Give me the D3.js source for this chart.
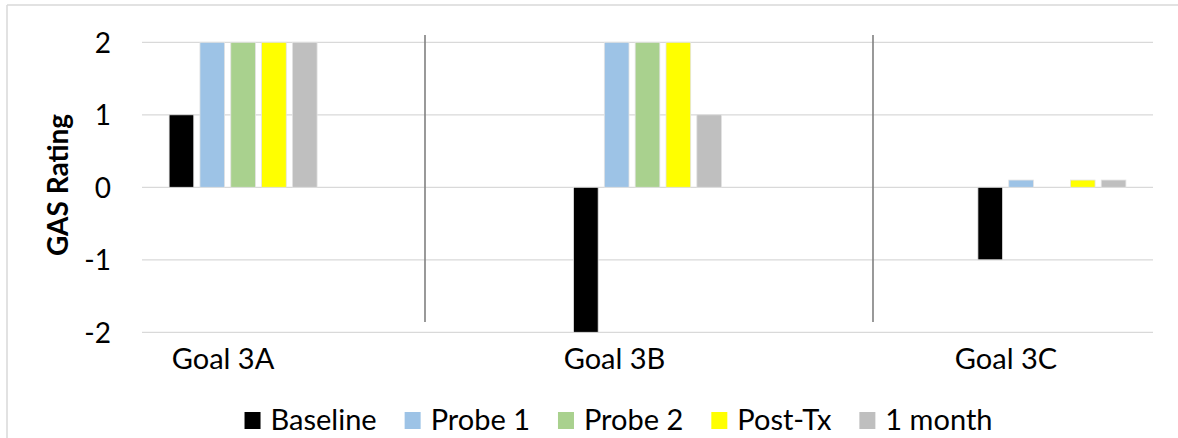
<!DOCTYPE html>
<html>
<head>
<meta charset="utf-8">
<script src="https://cdn.jsdelivr.net/npm/d3@7"></script>
<style>
  html, body { margin: 0; padding: 0; background: #fff; }
  svg { display: block; font-family: Lato, "Open Sans", sans-serif; }
</style>
</head>
<body>
<svg id="chart" width="1178" height="438"></svg>
<script>
// Goal attainment scaling (GAS) ratings per goal and assessment point
const categories = ["Goal 3A", "Goal 3B", "Goal 3C"];
const seriesNames = ["Baseline", "Probe 1", "Probe 2", "Post-Tx", "1 month"];
const baseline = [1, -2, -1];
const probe1   = [2, 2, 0.1];
const probe2   = [2, 2, 0];
const postTx   = [2, 2, 0.1];
const oneMonth = [2, 1, 0.1];
const yTicks = [-2, -1, 0, 1, 2];
const colors = ["#000000", "#9DC3E6", "#A9D18E", "#FFFF00", "#BFBFBF"];

const seriesValues = [baseline, probe1, probe2, postTx, oneMonth];

const svg = d3.select("#chart");
const W = 1178, H = 438;
const plot = { left: 142, right: 1153, top: 42.3, bottom: 332.3 };
const labelSize = 29;

// outer chart frame (top and left edges visible)
svg.append("line").attr("x1", 7).attr("x2", W).attr("y1", 5).attr("y2", 5)
  .attr("stroke", "#d9d9d9").attr("stroke-width", 1.5);
svg.append("line").attr("x1", 7).attr("x2", 7).attr("y1", 5).attr("y2", H)
  .attr("stroke", "#d9d9d9").attr("stroke-width", 1.5);

const y = d3.scaleLinear().domain([-2, 2]).range([plot.bottom, plot.top]);

const x = d3.scalePoint().domain(categories)
  .range([plot.left, plot.right]).padding(0.25);

const xInner = d3.scaleBand().domain(seriesNames)
  .range([-74, 74]).paddingInner(0.2).paddingOuter(0);

// horizontal gridlines
svg.append("g")
  .selectAll("line").data(yTicks).join("line")
  .attr("x1", plot.left).attr("x2", plot.right)
  .attr("y1", d => y(d)).attr("y2", d => y(d))
  .attr("stroke", "#d9d9d9").attr("stroke-width", 1.3);

// y tick labels
const yAxis = d3.axisLeft(y).tickValues(yTicks).tickSize(0).tickPadding(0)
  .tickFormat(d => String(d));
const yg = svg.append("g").attr("transform", `translate(111,0)`).call(yAxis);
yg.select(".domain").remove();
yg.selectAll("text")
  .attr("font-family", "Lato, sans-serif")
  .attr("font-size", 28).attr("fill", "#000").attr("dy", "0.36em");

// y axis title
svg.append("text")
  .attr("transform", "translate(68,185) rotate(-90)")
  .attr("text-anchor", "middle")
  .attr("font-size", 28).attr("font-weight", "bold").attr("fill", "#000")
  .text("GAS Rating");

// goal separators
const separators = [425, 873];
svg.append("g").selectAll("line").data(separators).join("line")
  .attr("x1", d => d).attr("x2", d => d).attr("y1", 35).attr("y2", 322)
  .attr("stroke", "#808080").attr("stroke-width", 1.6);

// bars
const groups = svg.append("g").selectAll("g").data(categories).join("g")
  .attr("transform", d => `translate(${x(d)},0)`);

groups.selectAll("rect")
  .data((cat, ci) => seriesNames.map((s, si) => ({ s, si, v: seriesValues[si][ci] })))
  .join("rect")
  .filter(d => d.v !== 0)
  .attr("x", d => xInner(d.s))
  .attr("width", xInner.bandwidth())
  .attr("y", d => y(Math.max(0, d.v)))
  .attr("height", d => Math.abs(y(d.v) - y(0)))
  .attr("fill", d => colors[d.si])
  .attr("stroke", "#e3e3e3").attr("stroke-width", 0.8);

// category labels
const xLabel = d3.scalePoint().domain(categories).range([223, 1006]);
svg.append("g").selectAll("text").data(categories).join("text")
  .attr("x", d => xLabel(d)).attr("y", 369)
  .attr("text-anchor", "middle")
  .attr("font-size", labelSize).attr("fill", "#000")
  .text(d => d);

// legend
const legend = svg.append("g");
const items = legend.selectAll("g").data(seriesNames).join("g");
items.append("rect")
  .attr("x", 0).attr("y", 412).attr("width", 16).attr("height", 17)
  .attr("fill", (d, i) => colors[i]);
items.append("text")
  .attr("x", 26).attr("y", 430)
  .attr("font-size", labelSize).attr("fill", "#000")
  .text(d => d);
let cursor = 0;
const offsets = [];
items.each(function () {
  offsets.push(cursor);
  const tw = d3.select(this).select("text").node().getComputedTextLength();
  cursor += 26 + tw + 28;
});
const legendWidth = cursor - 28;
const legendStart = 618.5 - legendWidth / 2;
items.attr("transform", (d, i) => `translate(${legendStart + offsets[i]},0)`);
</script>
</body>
</html>
